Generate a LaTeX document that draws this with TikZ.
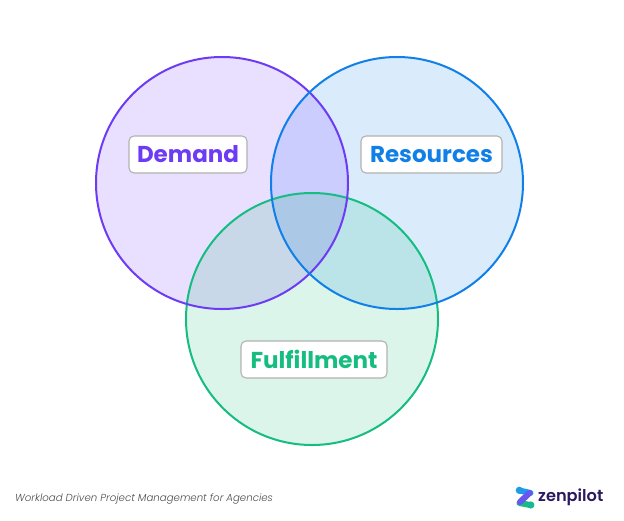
\documentclass[tikz,border=0pt]{standalone}
\usepackage{fontspec}
\setmainfont{Poppins}
\newfontfamily\labelfont[UprightFont={* Bold}]{Poppins}
\newfontfamily\capfont[UprightFont={* Light Italic}]{Poppins}
\newfontfamily\logofont[UprightFont={* SemiBold}]{Poppins}
\definecolor{purp}{HTML}{6E3BF5}
\definecolor{blu}{HTML}{1080E8}
\definecolor{grn}{HTML}{15BD80}
\definecolor{fillP}{HTML}{E9E0FF}
\definecolor{fillB}{HTML}{DAEBFC}
\definecolor{fillG}{HTML}{DCF5EA}
\definecolor{fillPB}{HTML}{CBCDFF}
\definecolor{fillPG}{HTML}{C9D8E8}
\definecolor{fillBG}{HTML}{BBE4E8}
\definecolor{fillAll}{HTML}{ABC9E6}
\definecolor{logoink}{HTML}{2A1A5E}
\definecolor{logoblue}{HTML}{1E9BE8}
\definecolor{logopurp}{HTML}{6A55F0}
\tikzset{
  ring/.style={line width=2pt,fill=none},
  tag/.style={draw=black!30,line width=1.1pt,fill=white,rounded corners=5pt,
    minimum height=37pt,inner sep=0pt,font=\labelfont\fontsize{23}{28}\selectfont},
  logobar/.style={line width=6pt,line cap=round},
}
\newcommand{\circP}{(222,-183) circle (126)}
\newcommand{\circB}{(397,-183) circle (126)}
\newcommand{\circG}{(312,-319) circle (126)}
\begin{document}
\begin{tikzpicture}[x=1pt,y=1pt]
\useasboundingbox (0,-520) rectangle (624,0);
\fill[white] (0,-520) rectangle (624,0);
\fill[fillP] \circP;
\fill[fillB] \circB;
\fill[fillG] \circG;
\begin{scope}\clip \circP; \fill[fillPB] \circB; \end{scope}
\begin{scope}\clip \circP; \fill[fillPG] \circG; \end{scope}
\begin{scope}\clip \circB; \fill[fillBG] \circG; \end{scope}
\begin{scope}\clip \circP; \clip \circB; \fill[fillAll] \circG; \end{scope}
\draw[ring,grn] \circG;
\draw[ring,purp] \circP;
\draw[ring,blu] \circB;
\node[tag,text=purp,minimum width=118pt] (demand) at (188,-154.5) {Demand};
\node[tag,text=blu,minimum width=141pt] (resources) at (431.5,-154.5) {Resources};
\node[tag,text=grn,minimum width=146pt] (fulfillment) at (314,-359.5) {Fulfillment};
\node[anchor=west,inner sep=0pt,text=black!70,font=\capfont\fontsize{10.2}{13}\selectfont] (caption) at (15,-499) {Workload Driven Project Management for Agencies};
\node[anchor=west,inner sep=0pt,text=logoink,font=\logofont\fontsize{16.2}{20}\selectfont] (logotext) at (538,-497) {zenpilot};
\draw[logobar,logoblue] (519.5,-490.5) -- (530.5,-493);
\draw[logobar,grn] (519.5,-503) -- (530.5,-505);
\draw[logobar,logopurp] (529.5,-493) -- (520,-502);
\fill[logoblue] (519.3,-490.3) circle (3.6);
\fill[grn!80!logoblue] (530.8,-505) circle (3.6);
\end{tikzpicture}
\end{document}
